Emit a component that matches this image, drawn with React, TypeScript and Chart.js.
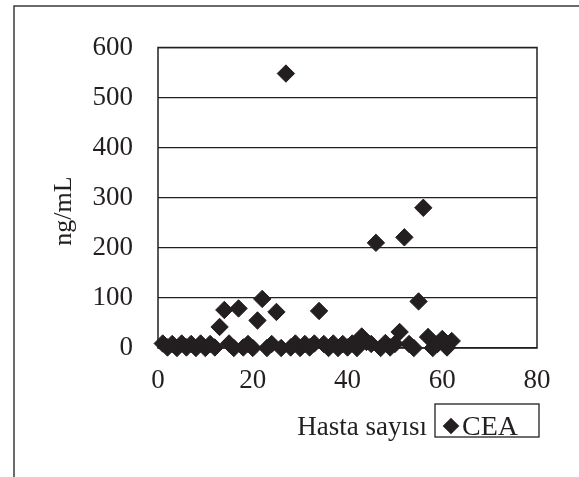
import React, { useEffect, useRef } from "react";
import { Chart, registerables } from "chart.js";

Chart.register(...registerables);

// ---- data ----
const patientNumbers = [
  1, 2, 3, 4, 5, 6, 7, 8, 9, 10, 11, 12, 13, 14, 15, 16, 17, 18, 19, 20, 21,
  22, 23, 24, 25, 26, 27, 28, 29, 30, 31, 32, 33, 34, 35, 36, 37, 38, 39, 40,
  41, 42, 43, 44, 45, 46, 47, 48, 49, 50, 51, 52, 53, 54, 55, 56, 57, 58, 59,
  60, 61, 62,
];
const ceaValues = [
  9, 1, 8, 0, 9, 1, 8, 0, 9, 0, 8, 1, 42, 76, 9, 0, 79, 1, 8, 0, 55, 98, 0, 8,
  72, 0, 548, 1, 9, 0, 8, 1, 9, 74, 8, 0, 9, 0, 8, 1, 9, 0, 23, 12, 8, 210, 0,
  10, 1, 8, 32, 221, 8, 0, 93, 280, 22, 0, 8, 18, 1, 14,
];
const xTicks = [0, 20, 40, 60, 80];
const yTicks = [0, 100, 200, 300, 400, 500, 600];
const seriesLabel = "CEA";
const xTitle = "Hasta sayısı";
const yTitle = "ng/mL";

const INK = "#231f20";
const FONT = "Liberation Serif";

const decorPlugin = {
  id: "decor",
  beforeDatasetsDraw(chart: any) {
    const { ctx, chartArea } = chart;
    ctx.save();
    ctx.strokeStyle = INK;
    ctx.lineWidth = 1.5;
    ctx.strokeRect(
      chartArea.left,
      chartArea.top,
      chartArea.right - chartArea.left,
      chartArea.bottom - chartArea.top
    );
    ctx.restore();
  },
  afterDraw(chart: any) {
    const { ctx } = chart;
    ctx.save();
    // outer frame (left and top edges visible)
    ctx.strokeStyle = "#3a3a3a";
    ctx.lineWidth = 1.5;
    ctx.beginPath();
    ctx.moveTo(14, 480);
    ctx.lineTo(14, 6);
    ctx.lineTo(585, 6);
    ctx.stroke();

    ctx.fillStyle = INK;
    // y title
    ctx.save();
    ctx.translate(64, 211);
    ctx.rotate(-Math.PI / 2);
    ctx.font = `26px "${FONT}"`;
    ctx.textAlign = "center";
    ctx.textBaseline = "middle";
    ctx.fillText(yTitle, 0, 0);
    ctx.restore();

    // x title
    ctx.font = `27px "${FONT}"`;
    ctx.textAlign = "right";
    ctx.textBaseline = "alphabetic";
    ctx.fillText(xTitle, 427, 435);

    // legend box
    ctx.strokeStyle = INK;
    ctx.lineWidth = 1.3;
    ctx.strokeRect(435, 404, 104, 33);
    const cx = 451;
    const cy = 426;
    const r = 8.3;
    ctx.beginPath();
    ctx.moveTo(cx - r, cy);
    ctx.lineTo(cx, cy - r);
    ctx.lineTo(cx + r, cy);
    ctx.lineTo(cx, cy + r);
    ctx.closePath();
    ctx.fill();
    ctx.font = `28px "${FONT}"`;
    ctx.textAlign = "left";
    ctx.fillText(seriesLabel, 462, 435);
    ctx.restore();
  },
};

export default function App() {
  const canvasRef = useRef<HTMLCanvasElement | null>(null);

  useEffect(() => {
    if (!canvasRef.current) return;
    const chart = new Chart(canvasRef.current, {
      type: "scatter",
      data: {
        datasets: [
          {
            label: seriesLabel,
            data: patientNumbers.map((x, i) => ({ x, y: ceaValues[i] })),
            pointStyle: "rectRot",
            pointRadius: 8.7,
            pointHoverRadius: 8.7,
            pointBorderWidth: 1,
            backgroundColor: INK,
            borderColor: INK,
            showLine: false,
            clip: false,
          } as any,
        ],
      },
      options: {
        responsive: false,
        animation: false,
        devicePixelRatio: 1,
        layout: { padding: { left: 0, right: 42, top: 47.5, bottom: 0 } },
        plugins: {
          legend: { display: false },
          tooltip: { enabled: false },
        },
        scales: {
          x: {
            type: "linear",
            min: 0,
            max: 80,
            afterBuildTicks: (s: any) => {
              s.ticks = xTicks.map((v) => ({ value: v }));
            },
            ticks: {
              padding: 17,
              color: INK,
              font: { family: FONT, size: 27 },
            },
            grid: { display: false, drawTicks: false },
            border: { display: false },
            afterFit: (s: any) => {
              s.height = 129;
            },
          },
          y: {
            type: "linear",
            min: 0,
            max: 600,
            afterBuildTicks: (s: any) => {
              s.ticks = yTicks.map((v) => ({ value: v }));
            },
            ticks: {
              padding: 25,
              color: INK,
              font: { family: FONT, size: 27 },
            },
            grid: { color: INK, lineWidth: 1.3, drawTicks: false },
            border: { display: false },
            afterFit: (s: any) => {
              s.width = 158;
            },
          },
        },
      },
      plugins: [decorPlugin],
    });
    return () => chart.destroy();
  }, []);

  return (
    <div
      style={{
        position: "absolute",
        left: 0,
        top: 0,
        width: 579,
        height: 477,
        background: "#fff",
      }}
    >
      <canvas ref={canvasRef} width={579} height={477} />
    </div>
  );
}
